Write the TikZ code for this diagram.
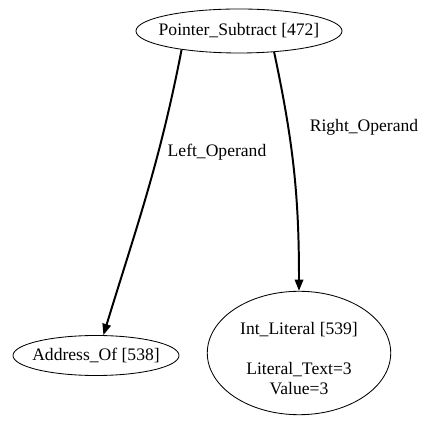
\documentclass[tikz,border=0pt]{standalone}
\usepackage{fontspec}
\setmainfont{Liberation Serif}
\usetikzlibrary{shapes.geometric, arrows.meta, positioning}

\begin{document}
\begin{tikzpicture}[
	x=0.025cm, y=0.025cm,
	font=\fontsize{12.5}{14.2}\selectfont,
	ast/.style={draw, ellipse, inner sep=-15pt, line width=0.6pt},
	operand/.style={line width=1.4pt, -{Triangle[length=8pt, width=6pt]}},
	>=latex
	]
	\useasboundingbox (0,0) rectangle (421,425);

	\node[ast, minimum width=5.15cm, minimum height=1.1cm] (sub) at (239,394) {Pointer\_Subtract [472]};
	\node[ast, minimum width=4.15cm, minimum height=1cm] (addr) at (96,69.5) {Address\_Of [538]};
	\node[ast, minimum width=4.585cm, minimum height=3.085cm] (lit) at (299,72) {};
	\node[align=center] (littext) at (299,66.5)
	{Int\_Literal [539]\\[14.2pt]Literal\_Text=3\\Value=3};

	\draw[operand] (sub.-162) to[out=-101, in=73] (addr.70);
	\draw[operand] (sub.-31) to[out=-78, in=90] (lit.north);

	\node (left) at (217,272.5) {Left\_Operand};
	\node (right) at (364,297.5) {Right\_Operand};
\end{tikzpicture}
\end{document}
